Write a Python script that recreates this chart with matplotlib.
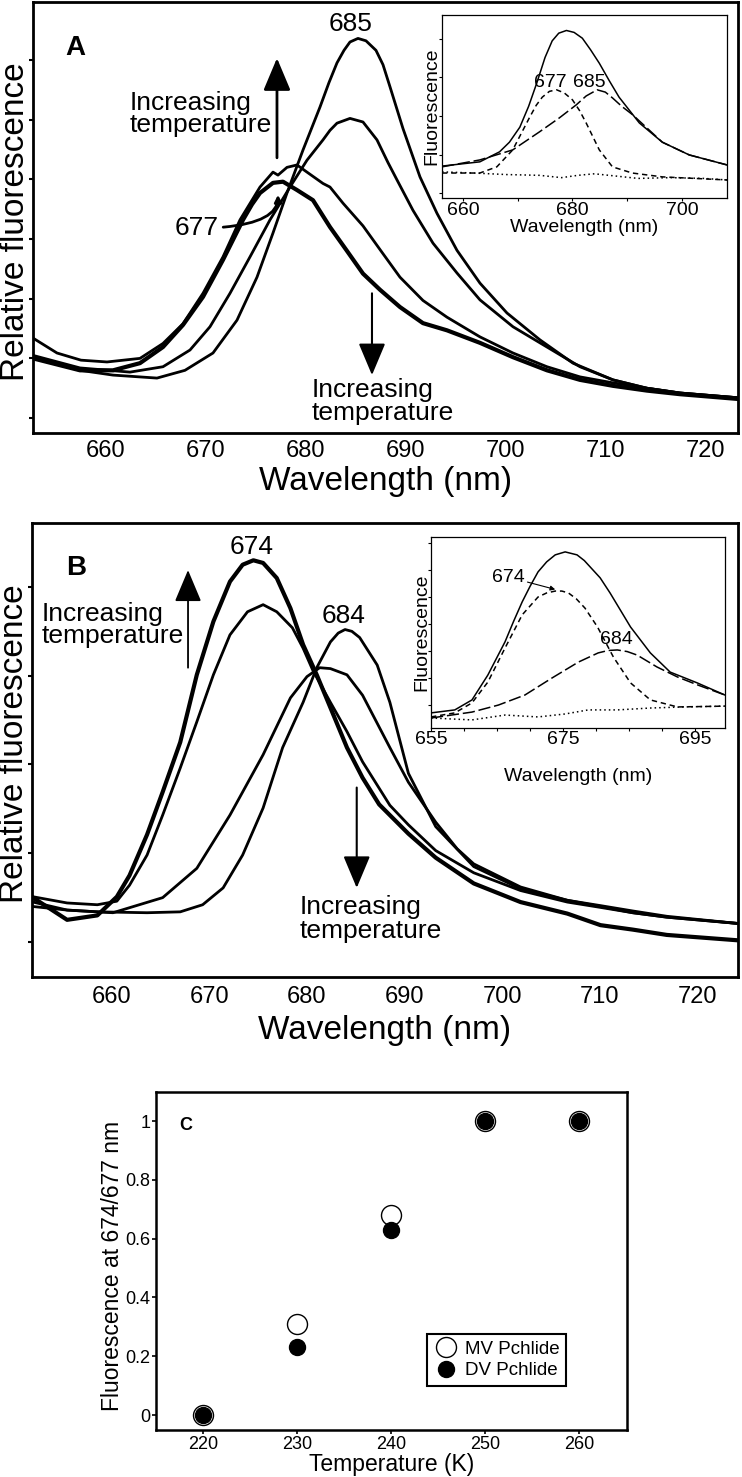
import matplotlib
matplotlib.use("Agg")
import matplotlib.pyplot as plt

plt.rcParams['font.family'] = ['Liberation Sans', 'DejaVu Sans']

# ---- panel A, main spectra (wavelength in nm, relative fluorescence) ----
a1_wl = [652.7, 655.1, 657.5, 660.1, 663.4, 665.7, 667.7, 669.7, 671.7, 673.4, 675.4, 676.7, 677.2,
         678.1, 679.1, 680.1, 681.7, 682.4, 683.7, 685.7, 687.5, 689.4, 691.7, 694.1, 697.4, 700.7,
         704.1, 707.4, 710.7, 714.1, 717.4, 723.2]
a1_fl = [2.34, 2.09, 1.97, 1.94, 2.00, 2.25, 2.58, 3.09, 3.70, 4.32, 4.87, 5.12, 5.07,
         5.20, 5.24, 5.12, 4.93, 4.87, 4.60, 4.22, 3.80, 3.36, 2.97, 2.69, 2.36, 2.09,
         1.86, 1.69, 1.59, 1.50, 1.42, 1.34]
a2_wl = [652.7, 657.4, 660.7, 663.4, 665.7, 667.7, 669.7, 671.7, 673.7, 674.6, 675.4, 676.7, 677.7,
         679.1, 680.7, 682.4, 684.1, 685.7, 687.4, 689.4, 691.7, 694.1, 697.4, 700.7, 704.1, 707.4,
         710.7, 714.1, 717.4, 723.2]
a2_fl = [2.00, 1.80, 1.80, 1.92, 2.19, 2.56, 3.03, 3.65, 4.32, 4.58, 4.77, 4.94, 4.96,
         4.82, 4.65, 4.20, 3.80, 3.42, 3.15, 2.86, 2.59, 2.47, 2.26, 2.02, 1.80, 1.64,
         1.54, 1.46, 1.40, 1.32]
a3_wl = [652.7, 657.4, 662.4, 665.7, 668.4, 670.4, 672.4, 674.4, 676.4, 678.4, 680.1, 681.7, 682.4,
         683.1, 684.4, 685.7, 687.1, 688.2, 689.1, 690.7, 692.7, 695.1, 697.4, 700.7, 704.1, 707.4,
         710.7, 714.1, 717.4, 723.2]
a3_fl = [2.05, 1.84, 1.77, 1.86, 2.14, 2.53, 3.09, 3.70, 4.32, 4.87, 5.32, 5.66, 5.82,
         5.94, 6.02, 5.96, 5.66, 5.28, 4.99, 4.48, 3.93, 3.43, 2.98, 2.53, 2.19, 1.86,
         1.64, 1.50, 1.42, 1.34]
a4_wl = [652.7, 657.4, 660.7, 665.1, 667.9, 670.7, 673.1, 675.1, 676.7, 678.1, 679.7, 681.4, 682.3,
         683.1, 683.8, 684.4, 685.2, 686.0, 687.0, 687.7, 688.4, 689.7, 691.4, 693.1, 695.1, 697.4,
         700.1, 703.4, 706.7, 710.7, 714.1, 717.4, 723.2]
a4_fl = [2.02, 1.80, 1.72, 1.67, 1.80, 2.09, 2.64, 3.36, 4.10, 4.77, 5.49, 6.21, 6.62,
         6.95, 7.16, 7.30, 7.36, 7.32, 7.16, 6.92, 6.55, 5.85, 5.04, 4.43, 3.81, 3.26,
         2.76, 2.31, 1.92, 1.64, 1.50, 1.42, 1.34]

# ---- panel A inset: total fit and components ----
ia_tot_wl = [656.2, 663.1, 666.7, 668.5, 670.4, 672.0, 673.5, 675.0, 676.3, 677.5, 678.9, 680.3, 681.8,
             683.3, 684.9, 686.7, 688.5, 692.2, 696.4, 701.3, 708.2]
ia_tot_fl = [0.70, 0.81, 1.07, 1.32, 1.71, 2.25, 2.86, 3.52, 3.95, 4.15, 4.22, 4.17, 4.02,
             3.72, 3.37, 2.92, 2.49, 1.82, 1.32, 0.99, 0.73]
ia_685_wl = [656.2, 663.1, 669.1, 674.0, 677.6, 680.7, 682.5, 684.5, 686.0, 687.3, 689.0, 691.0, 696.4,
             701.3, 708.2]
ia_685_fl = [0.68, 0.86, 1.12, 1.59, 1.95, 2.29, 2.52, 2.68, 2.62, 2.47, 2.25, 2.03, 1.32,
             0.99, 0.73]
ia_677_wl = [656.2, 663.1, 666.2, 669.1, 672.2, 673.4, 674.5, 675.8, 677.1, 678.5, 680.0, 681.3, 682.5,
             684.9, 687.3, 690.9, 696.4, 708.2]
ia_677_fl = [0.52, 0.52, 0.68, 1.12, 1.97, 2.28, 2.49, 2.64, 2.68, 2.60, 2.42, 2.14, 1.82,
             1.12, 0.68, 0.52, 0.42, 0.34]
ia_res_wl = [656.2, 662.0, 668.0, 674.0, 678.0, 681.0, 684.0, 688.0, 692.0, 698.0, 704.0, 708.2]
ia_res_fl = [0.55, 0.52, 0.48, 0.46, 0.40, 0.46, 0.50, 0.44, 0.38, 0.40, 0.38, 0.34]

# ---- panel B, main spectra ----
b1_wl = [651.9, 655.4, 658.5, 660.5, 661.8, 663.6, 665.2, 667.0, 668.7, 670.4, 672.1, 673.4, 674.5,
         675.5, 676.9, 678.3, 679.6, 681.0, 682.4, 684.1, 685.7, 687.4, 690.4, 693.2, 697.1, 701.9,
         706.7, 710.1, 713.4, 716.9, 724.1]
b1_fl = [1.50, 1.25, 1.30, 1.51, 1.75, 2.21, 2.69, 3.25, 4.01, 4.61, 5.06, 5.25, 5.30,
         5.27, 5.10, 4.76, 4.35, 4.01, 3.64, 3.19, 2.85, 2.55, 2.22, 1.95, 1.66, 1.45,
         1.32, 1.19, 1.14, 1.08, 1.02]
b2_wl = [651.9, 655.4, 658.5, 660.5, 661.8, 663.6, 665.2, 667.0, 668.7, 670.4, 672.1, 673.9, 675.5,
         676.9, 678.5, 679.6, 680.6, 682.4, 684.1, 685.7, 688.5, 690.4, 693.2, 697.1, 701.9, 706.7,
         710.1, 713.4, 716.9, 724.1]
b2_fl = [1.51, 1.44, 1.42, 1.46, 1.64, 1.98, 2.43, 2.96, 3.48, 4.01, 4.46, 4.72, 4.80,
         4.72, 4.54, 4.31, 4.06, 3.70, 3.37, 3.03, 2.54, 2.32, 2.03, 1.78, 1.58, 1.45,
         1.39, 1.33, 1.28, 1.21]
b3_wl = [651.9, 655.4, 660.1, 665.2, 668.7, 672.1, 675.5, 678.3, 680.0, 681.3, 682.4, 684.1, 685.7,
         688.5, 690.4, 693.2, 695.4, 697.1, 701.9, 706.7, 710.1, 713.4, 716.9, 724.1]
b3_fl = [1.45, 1.36, 1.33, 1.50, 1.83, 2.43, 3.11, 3.75, 3.99, 4.09, 4.08, 4.01, 3.78,
         3.19, 2.80, 2.35, 2.05, 1.88, 1.62, 1.47, 1.40, 1.33, 1.28, 1.21]
b4_wl = [651.9, 655.4, 658.5, 663.6, 667.0, 669.3, 671.4, 673.4, 675.5, 677.5, 679.6, 681.0, 682.4,
         683.2, 683.9, 684.6, 685.4, 687.2, 688.5, 690.4, 693.2, 697.1, 701.9, 706.7, 710.1, 713.4,
         716.9, 724.1]
b4_fl = [1.40, 1.36, 1.34, 1.33, 1.34, 1.42, 1.61, 1.98, 2.51, 3.19, 3.70, 4.09, 4.38,
         4.48, 4.52, 4.50, 4.43, 4.12, 3.70, 2.90, 2.30, 1.85, 1.60, 1.47, 1.41, 1.35,
         1.29, 1.21]

# ---- panel B inset ----
ib_tot_wl = [655.0, 658.6, 661.2, 663.6, 666.2, 667.5, 668.8, 670.0, 671.2, 672.5, 673.8, 675.3, 677.1,
             678.2, 679.1, 680.6, 682.1, 685.2, 688.2, 691.2, 695.3, 699.5]
ib_tot_fl = [0.56, 0.67, 1.04, 1.96, 3.19, 3.95, 4.67, 5.25, 5.78, 6.15, 6.41, 6.52, 6.41,
             6.20, 5.96, 5.56, 5.00, 3.74, 2.78, 2.07, 1.67, 1.22]
ib_674_wl = [655.0, 658.6, 661.2, 663.6, 666.2, 668.8, 671.2, 672.5, 673.8, 674.8, 675.8, 677.0, 678.3,
             680.2, 682.6, 685.2, 688.2, 692.3, 699.5]
ib_674_fl = [0.41, 0.56, 0.93, 1.70, 2.96, 4.19, 4.85, 5.00, 5.07, 5.07, 5.00, 4.78, 4.44,
             3.74, 2.63, 1.67, 1.04, 0.78, 0.81]
ib_684_wl = [655.0, 661.2, 665.2, 669.2, 673.3, 677.3, 680.3, 681.8, 683.2, 684.7, 686.2, 689.2, 692.3,
             695.3, 699.5]
ib_684_fl = [0.37, 0.59, 0.85, 1.22, 1.85, 2.44, 2.78, 2.87, 2.89, 2.83, 2.70, 2.26, 1.89,
             1.60, 1.22]
ib_res_wl = [655.0, 661.2, 666.2, 671.2, 675.3, 678.8, 683.2, 688.2, 693.2, 699.5]
ib_res_fl = [0.37, 0.30, 0.48, 0.41, 0.52, 0.67, 0.67, 0.74, 0.78, 0.81]

# ---- panel C ----
temps = [220, 230, 240, 250, 260]
mv_pchlide = [0.0, 0.31, 0.68, 1.0, 1.0]
dv_pchlide = [0.0, 0.23, 0.63, 1.0, 1.0]

fig = plt.figure(figsize=(7.42, 14.77), dpi=100)

arrow_style = '-|>,head_length=1.0,head_width=0.42'


def big_arrow(ax, x, y_from, y_to, lw):
    ax.annotate('', xy=(x, y_to), xytext=(x, y_from),
                arrowprops=dict(arrowstyle=arrow_style, lw=lw, color='k',
                                shrinkA=0, shrinkB=0, mutation_scale=20))


def style_main(ax, yticks, pad):
    for s in ax.spines.values():
        s.set_linewidth(2)
    ax.set_yticks(yticks)
    ax.set_yticklabels([])
    ax.tick_params(axis='y', length=3, width=1.5, direction='out')
    ax.tick_params(axis='x', length=0, labelsize=17, pad=pad)
    ax.set_xticks([660, 670, 680, 690, 700, 710, 720])


def style_inset(ax):
    for s in ax.spines.values():
        s.set_linewidth(0.9)
    ax.tick_params(length=2, width=0.8, labelsize=14, pad=0.5)
    ax.set_yticklabels([])


# panel A
ax = fig.add_axes([0.04447, 0.70684, 0.9501, 0.29181])
for wl, fl, w in [(a1_wl, a1_fl, 2), (a2_wl, a2_fl, 3), (a3_wl, a3_fl, 2), (a4_wl, a4_fl, 2)]:
    ax.plot(wl, fl, color='k', lw=w, solid_joinstyle='round')
ax.set_xlim(652.7, 723.2)
ax.set_ylim(0.75, 7.97)
style_main(ax, [1, 2, 3, 4, 5, 6, 7], 5)
ax.set_xlabel('Wavelength (nm)', fontsize=24, labelpad=3)
ax.set_ylabel('Relative fluorescence', fontsize=24)
ax.yaxis.set_label_coords(-0.003, 0.49)
ax.text(656.9, 7.20, 'A', fontsize=20, fontweight='bold', ha='center', va='center')
ax.text(684.5, 7.60, '685', fontsize=19, ha='center', va='center')
ax.text(662.4, 6.09, 'Increasing\ntemperature', fontsize=19, ha='left', va='center', linespacing=0.92)
big_arrow(ax, 677.1, 5.36, 7.03, 2)
ax.annotate('677', xy=(677.2, 4.74), xytext=(669.1, 4.18), fontsize=19, ha='center', va='center',
            arrowprops=dict(arrowstyle='-|>', lw=2, color='k', mutation_scale=10,
                            connectionstyle='angle3,angleA=0,angleB=90', shrinkA=1, shrinkB=0))
big_arrow(ax, 686.6, 3.09, 1.72, 1.5)
ax.text(680.6, 1.27, 'Increasing\ntemperature', fontsize=19, ha='left', va='center', linespacing=0.95)

# inset A
ins = fig.add_axes([0.5957, 0.8659, 0.3841, 0.1239])
ins.plot(ia_tot_wl, ia_tot_fl, color='k', lw=1.1)
ins.plot(ia_685_wl, ia_685_fl, color='k', lw=1.1, dashes=(8, 2.5))
ins.plot(ia_677_wl, ia_677_fl, color='k', lw=1.1, dashes=(3.5, 2.5))
ins.plot(ia_res_wl, ia_res_fl, color='k', lw=1.1, dashes=(1, 2))
ins.set_xlim(656.2, 708.2)
ins.set_ylim(-0.13, 4.62)
ins.set_xticks([660, 670, 680, 690, 700])
ins.set_xticklabels(['660', '', '680', '', '700'])
ins.set_yticks([0, 1, 2, 3, 4])
style_inset(ins)
ins.set_xlabel('Wavelength (nm)', fontsize=14, labelpad=0)
ins.set_ylabel('Fluorescence', fontsize=14, labelpad=-1)
ins.text(676.0, 2.86, '677', fontsize=14, ha='center', va='center')
ins.text(683.1, 2.86, '685', fontsize=14, ha='center', va='center')

# panel B
ax = fig.add_axes([0.04313, 0.33852, 0.9515, 0.30738])
for wl, fl, w in [(b1_wl, b1_fl, 3), (b2_wl, b2_fl, 2), (b3_wl, b3_fl, 2), (b4_wl, b4_fl, 2)]:
    ax.plot(wl, fl, color='k', lw=w, solid_joinstyle='round')
ax.set_xlim(651.8, 724.2)
ax.set_ylim(0.606, 5.72)
style_main(ax, [1, 2, 3, 4, 5], 6.5)
ax.set_xlabel('Wavelength (nm)', fontsize=24, labelpad=5)
ax.set_ylabel('Relative fluorescence', fontsize=24)
ax.yaxis.set_label_coords(-0.003, 0.515)
ax.text(656.3, 5.21, 'B', fontsize=20, fontweight='bold', ha='center', va='center')
ax.text(674.3, 5.45, '674', fontsize=19, ha='center', va='center')
ax.text(683.7, 4.67, '684', fontsize=19, ha='center', va='center')
ax.text(652.8, 4.57, 'Increasing\ntemperature', fontsize=19, ha='left', va='center', linespacing=0.88)
big_arrow(ax, 667.8, 4.09, 5.19, 1.3)
big_arrow(ax, 685.1, 2.74, 1.61, 1.5)
ax.text(679.2, 1.26, 'Increasing\ntemperature', fontsize=19, ha='left', va='center', linespacing=1.0)

# inset B
ins = fig.add_axes([0.5809, 0.5071, 0.3962, 0.1293])
ins.plot(ib_tot_wl, ib_tot_fl, color='k', lw=1.1)
ins.plot(ib_684_wl, ib_684_fl, color='k', lw=1.1, dashes=(8, 2.5))
ins.plot(ib_674_wl, ib_674_fl, color='k', lw=1.1, dashes=(3.5, 2.5))
ins.plot(ib_res_wl, ib_res_fl, color='k', lw=1.1, dashes=(1, 2))
ins.set_xlim(655, 699.5)
ins.set_ylim(0, 7.07)
ins.set_xticks([655, 660, 665, 670, 675, 680, 685, 690, 695])
ins.set_xticklabels(['655', '', '', '', '675', '', '', '', '695'])
ins.set_yticks([0.85, 1.85, 2.85, 3.85, 4.85, 5.85, 6.85])
style_inset(ins)
ins.set_xlabel('Wavelength (nm)', fontsize=14, labelpad=14)
ins.set_ylabel('Fluorescence', fontsize=14, labelpad=-2)
ins.annotate('674', xy=(673.8, 5.13), xytext=(666.7, 5.59), fontsize=14, ha='center', va='center',
             arrowprops=dict(arrowstyle='-|>', lw=0.8, color='k', mutation_scale=7,
                             shrinkA=0, shrinkB=0))
ins.text(683.0, 3.26, '684', fontsize=14, ha='center', va='center')

# panel C
ax = fig.add_axes([0.21024, 0.03182, 0.63477, 0.22884])
ax.plot(temps, mv_pchlide, 'o', ms=14.4, mfc='white', mec='black', mew=1.0, label='MV Pchlide')
ax.plot(temps, dv_pchlide, 'o', ms=11.5, color='black', label='DV Pchlide')
ax.set_xlim(215.0, 265.1)
ax.set_ylim(-0.051, 1.099)
ax.set_xticks(temps)
ax.set_yticks([0, 0.2, 0.4, 0.6, 0.8, 1.0])
ax.set_yticklabels(['0', '0.2', '0.4', '0.6', '0.8', '1'])
for s in ax.spines.values():
    s.set_linewidth(1.8)
ax.tick_params(length=3, width=1.2, labelsize=13, pad=1)
ax.set_xlabel('Temperature (K)', fontsize=16.5, labelpad=0)
ax.set_ylabel('Fluorescence at 674/677 nm', fontsize=16.5)
ax.yaxis.set_label_coords(-0.068, 0.485)
ax.text(218.2, 0.986, 'C', fontsize=13, fontweight='bold', ha='center', va='center')
leg = ax.legend(loc='lower left', bbox_to_anchor=(0.575, 0.13), fontsize=13.5, fancybox=False,
                edgecolor='black', framealpha=1, handletextpad=0.4, borderpad=0.35,
                labelspacing=0.25, handlelength=1.3, borderaxespad=0)
leg.get_frame().set_linewidth(1.5)

fig.savefig('out.png', dpi=100)
